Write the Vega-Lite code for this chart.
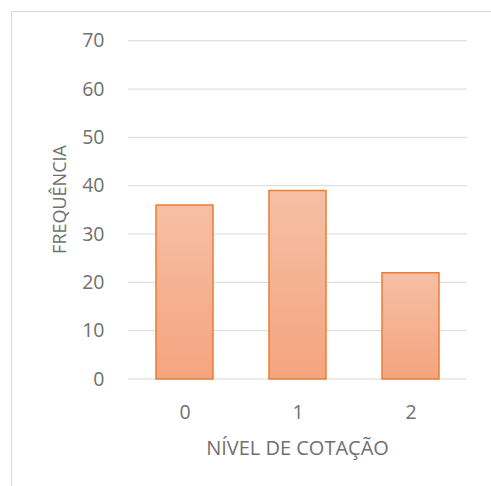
{
  "$schema": "https://vega.github.io/schema/vega-lite/v6.json",
  "autosize": {"type": "none"},
  "padding": {"left": 11, "top": 11, "right": 0, "bottom": 0},
  "width": 480,
  "height": 475,
  "background": "white",
  "config": {
    "font": "Open Sans",
    "view": {"stroke": "#d9d9d9", "strokeWidth": 1}
  },
  "layer": [
    {
      "data": {"values": [{"g": 0}, {"g": 10}, {"g": 20}, {"g": 30}, {"g": 40}, {"g": 50}, {"g": 60}, {"g": 70}]},
      "mark": {"type": "rule", "color": "#d9d9d9", "strokeWidth": 1},
      "encoding": {
        "y": {"field": "g", "type": "quantitative", "title": "FREQUÊNCIA"},
        "x": {"datum": -0.5, "type": "quantitative", "title": "NÍVEL DE COTAÇÃO"},
        "x2": {"datum": 2.5}
      }
    },
    {
      "data": {"values": [
        {"nivel": 0, "freq": 36},
        {"nivel": 1, "freq": 39},
        {"nivel": 2, "freq": 22}
      ]},
      "mark": {
        "type": "bar",
        "width": 57,
        "stroke": "#ed7d31",
        "strokeWidth": 1.5,
        "fill": {
          "gradient": "linear",
          "x1": 0, "y1": 0, "x2": 0, "y2": 1,
          "stops": [
            {"offset": 0, "color": "#f6bfa5"},
            {"offset": 1, "color": "#f4a47f"}
          ]
        }
      },
      "encoding": {
        "x": {
          "field": "nivel", "type": "quantitative",
          "scale": {"domain": [-1.5354, 2.7124], "nice": false, "zero": false, "padding": 0},
          "axis": {
            "title": "NÍVEL DE COTAÇÃO",
            "values": [0, 1, 2], "format": "d",
            "grid": false, "domain": false, "ticks": false, "tickSize": 0,
            "offset": -107,
            "labelPadding": 39, "labelBaseline": "alphabetic",
            "labelFontSize": 19.5, "labelColor": "#707070",
            "labelFont": "Open Sans",
            "titleFont": "Open Sans", "titleFontSize": 20, "titleFontWeight": "normal",
            "titleColor": "#707070",
            "titleX": 286, "titleY": 75, "titleBaseline": "alphabetic", "titleAlign": "center"
          }
        },
        "y": {
          "field": "freq", "type": "quantitative",
          "scale": {"domain": [-22.14, 76.15], "nice": false, "zero": false, "padding": 0},
          "axis": {
            "title": "FREQUÊNCIA",
            "values": [0, 10, 20, 30, 40, 50, 60, 70],
            "grid": false, "domain": false, "ticks": false, "tickSize": 0,
            "offset": -117,
            "labelPadding": 24,
            "labelFontSize": 19.5, "labelColor": "#707070",
            "labelFont": "Open Sans",
            "titleFont": "Open Sans", "titleFontSize": 18, "titleFontWeight": "normal",
            "titleColor": "#707070",
            "titleAngle": -90,
            "titleX": -63, "titleY": 188, "titleBaseline": "alphabetic", "titleAlign": "center"
          }
        },
        "y2": {"datum": 0}
      }
    }
  ]
}
